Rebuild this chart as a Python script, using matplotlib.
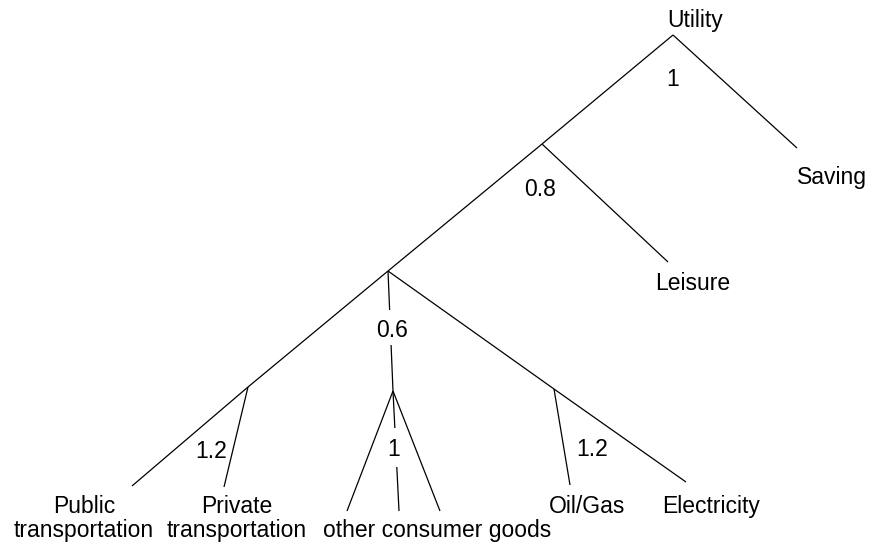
import matplotlib
matplotlib.use("Agg")
import matplotlib.pyplot as plt

plt.rcParams["font.family"] = ["Liberation Sans", "DejaVu Sans"]

# nesting tree: node positions (pixels, y down)
node_names = ["Utility", "n08", "n06", "n12a", "n1", "n12b",
              "Saving", "Leisure", "Public", "Private",
              "other_l", "other_m", "other_r", "OilGas", "Electricity"]
node_x = [673, 542, 388, 248, 393, 554,
          797, 668, 132, 224, 347, 399, 440, 570, 686]
node_y = [35, 144, 271, 387, 391, 389,
          148, 262, 486, 487, 511, 511, 511, 485, 482]

edges = [("Utility", "Saving"), ("Utility", "n08"), ("n08", "Leisure"),
         ("n08", "n06"), ("n06", "n12a"), ("n12a", "Public"),
         ("n12a", "Private"), ("n06", "n1"), ("n1", "other_l"),
         ("n1", "other_m"), ("n1", "other_r"), ("n06", "n12b"),
         ("n12b", "OilGas"), ("n12b", "Electricity")]

# substitution elasticities at each nest
elasticities = ["1", "0.8", "0.6", "1.2", "1", "1.2"]
elast_x = [673, 540, 392, 211, 394, 592]
elast_y = [86, 196, 337, 458, 456, 456]

# edges interrupted by a label: (edge, y where the gap starts, y where it ends)
gapped_edges = {("n06", "n1"): (310, 345), ("n1", "other_m"): (428, 467)}

# leaf labels (one entry per row)
leaf_labels = [["Utility"], ["Saving"], ["Leisure"],
               ["Public", "transportation"], ["Private", "transportation"],
               ["", "other consumer goods"], ["Oil/Gas"], ["Electricity"]]
leaf_x = [695, 832, 693, 84, 237, 437, 587, 711]
leaf_y = [27, 184, 290, 513, 513, 513, 513, 513]

fig = plt.figure(figsize=(8.72, 5.44), dpi=100)
ax = fig.add_axes([0, 0, 1, 1])
ax.set_xlim(0, 872)
ax.set_ylim(544, 0)
ax.axis("off")

pos = {n: (x, y) for n, x, y in zip(node_names, node_x, node_y)}


def x_at(p, q, y):
    return p[0] + (q[0] - p[0]) * (y - p[1]) / (q[1] - p[1])


for a, b in edges:
    p, q = pos[a], pos[b]
    if (a, b) in gapped_edges:
        y0, y1 = gapped_edges[(a, b)]
        parts = [(p, (x_at(p, q, y0), y0)), ((x_at(p, q, y1), y1), q)]
    else:
        parts = [(p, q)]
    for s, e in parts:
        ax.plot([s[0], e[0]], [s[1], e[1]], color="black", lw=0.9,
                solid_capstyle="butt", zorder=1)

fs = 16.5
for s, x, y in zip(elasticities, elast_x, elast_y):
    ax.text(x, y, s, ha="center", va="baseline", fontsize=fs, zorder=3)

row_step = 24
for lines, x, y in zip(leaf_labels, leaf_x, leaf_y):
    for i, s in enumerate(lines):
        if s:
            ax.text(x, y + i * row_step, s, ha="center", va="baseline",
                    fontsize=fs, zorder=3)

fig.savefig("out.png", dpi=100, facecolor="white")
